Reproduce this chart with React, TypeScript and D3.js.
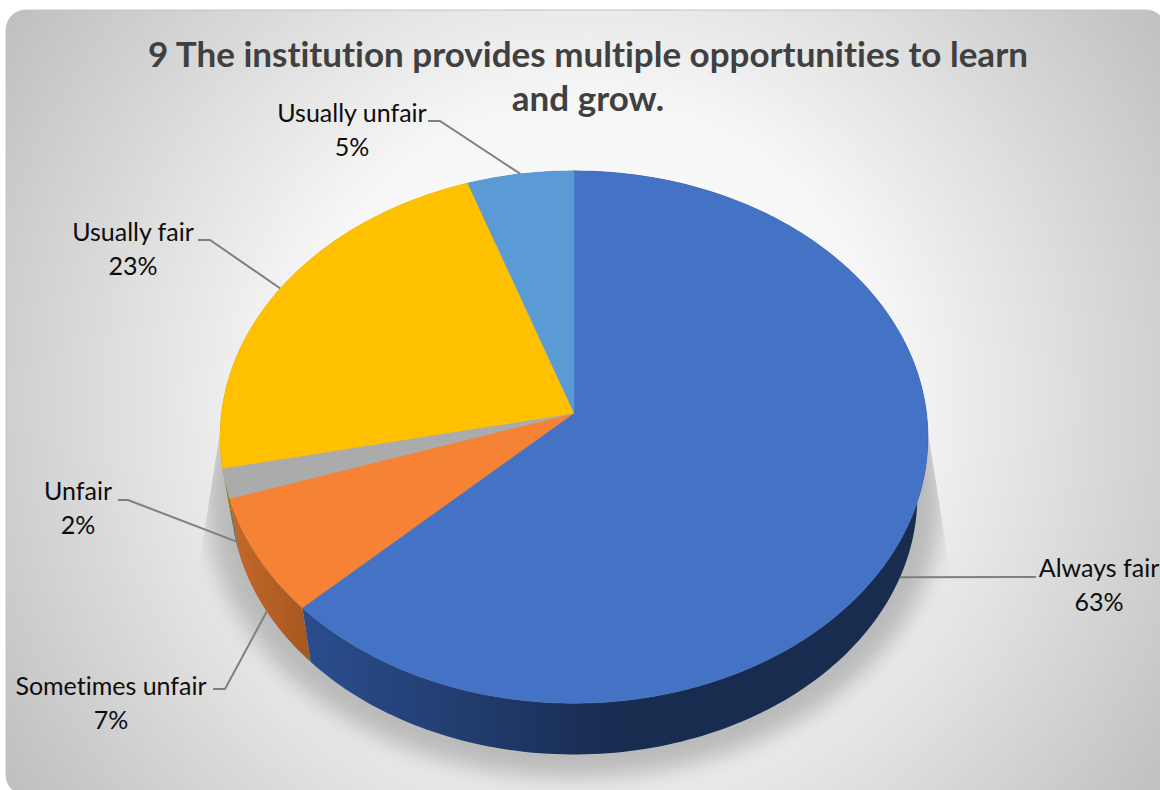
import React from "react";
import * as d3 from "d3";

// values, in drawing order (clockwise from 12 o'clock)
const categories = ["Always fair", "Sometimes unfair", "Unfair", "Usually fair", "Usually unfair"];
const shares = [62.85, 7.05, 1.8, 23.0, 5.3];
const titleLines = ["9 The institution provides multiple opportunities to learn", "and grow."];

const sliceColors = ["#4472c4", "#f58235", "#ababab", "#ffc000", "#5b9bd5"];
const sideFills = ["url(#sideBlue)", "url(#sideOrange)", "#6f6f6f", "#a67c00", "#335f8a"];

// where each label sits, and where its leader line turns
const labelLayout = [
  { x: 1099, y: 577, elbow: [1036, 577] },
  { x: 111, y: 695, elbow: [213, 689, 225, 689] },
  { x: 78, y: 500, elbow: [118, 500, 128, 500] },
  { x: 133, y: 241, elbow: [198, 240, 210, 240] },
  { x: 352, y: 122, elbow: [428, 121, 440, 121] },
];

const WIDTH = 1160;
const HEIGHT = 790;

// the pie is a circle seen in perspective, so the near edge is further from the apex
const apex = { x: 574, y: 413 };
const radiusX = 352.5;
const radiusY = 264;
const tilt = 0.0903;

const project = (angle: number, scale = 1, dy = 0): [number, number] => {
  const u = Math.sin(angle);
  const v = -Math.cos(angle);
  const w = 1 - tilt * v;
  return [apex.x + (scale * radiusX * u) / w, apex.y + dy + (scale * radiusY * v) / w];
};

const DEPTH = 60;
const BOTTOM_SCALE = 0.97;

const line = d3.line<[number, number]>();
const edge = (a0: number, a1: number, scale = 1, dy = 0) => {
  const n = Math.max(2, Math.ceil((a1 - a0) / 0.02));
  return d3.range(n + 1).map((i) => project(a0 + ((a1 - a0) * i) / n, scale, dy));
};

const pie = d3.pie<number>().sort(null).value((d) => d);
const arcs = pie(shares);
const pct = d3.format(".0f");

const App: React.FC = () => {
  const outline = edge(0, Math.PI * 2, BOTTOM_SCALE * 1.07, DEPTH + 4);

  return (
    <svg
      width={WIDTH}
      height={HEIGHT}
      viewBox={`0 0 ${WIDTH} ${HEIGHT}`}
      style={{ position: "absolute", left: 0, top: 0, display: "block", fontVariantLigatures: "none" }}
      fontFamily="Lato, 'Open Sans', sans-serif"
    >
      <defs>
        <radialGradient id="bg" gradientUnits="userSpaceOnUse" cx={590} cy={400} r={720}>
          <stop offset="0" stopColor="#ffffff" />
          <stop offset="0.42" stopColor="#f6f6f6" />
          <stop offset="0.62" stopColor="#e2e2e2" />
          <stop offset="1" stopColor="#bcbcbc" />
        </radialGradient>
        <linearGradient id="sideBlue" gradientUnits="userSpaceOnUse" x1={305} x2={620} y1={0} y2={0}>
          <stop offset="0" stopColor="#2b4d8e" />
          <stop offset="1" stopColor="#182c50" />
        </linearGradient>
        <linearGradient id="sideOrange" gradientUnits="userSpaceOnUse" x1={230} x2={312} y1={0} y2={0}>
          <stop offset="0" stopColor="#c4682a" />
          <stop offset="1" stopColor="#a5561f" />
        </linearGradient>
        <filter id="soft" x="-10%" y="-10%" width="120%" height="120%">
          <feGaussianBlur stdDeviation="11" />
        </filter>
        <clipPath id="shadowClip">
          <polygon points="221,425 197,578 197,790 951,790 951,578 927,425" />
        </clipPath>
      </defs>

      <rect x={6} y={10} width={1160} height={785} rx={20} fill="url(#bg)" stroke="#c4c4c4" strokeWidth={1} />

      <g clipPath="url(#shadowClip)">
        <path d={line(outline) ?? ""} fill="#bababa" filter="url(#soft)" />
      </g>

      {arcs.map((d, i) => (
        <path
          key={`side-${i}`}
          d={`${line(edge(d.startAngle, d.endAngle))}L${line(edge(d.startAngle, d.endAngle, BOTTOM_SCALE, DEPTH).reverse())?.slice(1)}Z`}
          fill={sideFills[i]}
        />
      ))}

      {arcs.map((d, i) => (
        <path
          key={`top-${i}`}
          d={`M${apex.x},${apex.y}L${line(edge(d.startAngle, d.endAngle))?.slice(1)}Z`}
          fill={sliceColors[i]}
          stroke={sliceColors[i]}
          strokeWidth={0.5}
        />
      ))}

      {arcs.map((d, i) => {
        const mid = (d.startAngle + d.endAngle) / 2;
        // lower slices are labelled from the bottom rim, upper ones from the top rim
        const anchor = -Math.cos(mid) > 0 ? project(mid, BOTTOM_SCALE, DEPTH) : project(mid);
        const { elbow } = labelLayout[i];
        const pts = d3.range(0, elbow.length, 2).map((k) => [elbow[k], elbow[k + 1]] as [number, number]);
        return (
          <path
            key={`leader-${i}`}
            d={line([...pts, anchor]) ?? ""}
            fill="none"
            stroke="#7f7f7f"
            strokeWidth={2}
          />
        );
      })}

      {categories.map((name, i) => (
        <text key={name} textAnchor="middle" fontSize={25} fill="#0d0d0d" x={labelLayout[i].x}>
          <tspan x={labelLayout[i].x} y={labelLayout[i].y}>
            {name}
          </tspan>
          <tspan x={labelLayout[i].x} y={labelLayout[i].y + 34}>
            {pct(shares[i])}%
          </tspan>
        </text>
      ))}

      {titleLines.map((t, i) => (
        <text
          key={t}
          x={588}
          y={67 + i * 44}
          textAnchor="middle"
          fontSize={35}
          fontWeight={700}
          fill="#404040"
        >
          {t}
        </text>
      ))}
    </svg>
  );
};

export default App;
